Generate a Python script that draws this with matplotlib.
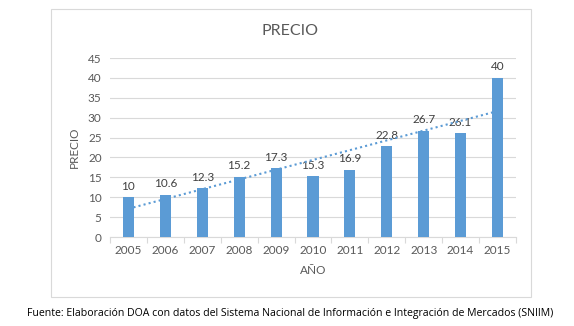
import matplotlib
matplotlib.use("Agg")
import matplotlib.pyplot as plt
from matplotlib.patches import Rectangle
import numpy as np

years = ["2005", "2006", "2007", "2008", "2009", "2010",
         "2011", "2012", "2013", "2014", "2015"]
precio = [10, 10.6, 12.3, 15.2, 17.3, 15.3, 16.9, 22.8, 26.7, 26.1, 40]
labels = ["10", "10.6", "12.3", "15.2", "17.3", "15.3",
          "16.9", "22.8", "26.7", "26.1", "40"]

plt.rcParams['font.family'] = ['Lato', 'DejaVu Sans']
txt = '#595959'
bar_color = '#5b9bd5'

fig = plt.figure(figsize=(5.74, 3.26), dpi=100)
ax = fig.add_axes([0.1916, 0.273, 0.7073, 0.549])

# chart frame
fig.patches.append(Rectangle((0.0889, 0.089), 0.836, 0.883, transform=fig.transFigure,
                             fill=False, edgecolor='#d9d9d9', linewidth=0.8))

x = np.arange(len(years))
ax.bar(x, precio, width=0.3, color=bar_color, zorder=3)

# linear trendline
m, b = np.polyfit(x, precio, 1)
ax.plot(x, m * x + b, linestyle=(0, (1, 1.5)), color=bar_color, linewidth=1.5, zorder=4)

for xi, v, lab in zip(x, precio, labels):
    ax.annotate(lab, (xi, v), xytext=(0, 4), textcoords='offset points',
                ha='center', va='bottom', fontsize=8.5, color='#404040')

ax.set_xlim(-0.5, len(years) - 0.5)
ax.set_ylim(0, 45)
ax.set_yticks(range(0, 46, 5))
ax.set_xticks(x)
ax.set_xticklabels(years)
ax.set_xticks(np.arange(-0.5, len(years), 1), minor=True)
ax.tick_params(axis='x', which='major', length=0, pad=6, labelsize=8.5, labelcolor=txt)
ax.tick_params(axis='x', which='minor', length=4, color='#d9d9d9', width=0.8)
ax.tick_params(axis='y', length=0, pad=6, labelsize=8.5, labelcolor=txt)
ax.grid(axis='y', color='#d9d9d9', linewidth=0.8, zorder=0)
for s in ['top', 'right', 'left']:
    ax.spines[s].set_visible(False)
ax.spines['bottom'].set_color('#d9d9d9')

fig.text(0.505, 0.905, "PRECIO", ha='center', va='center', fontsize=11.5, color=txt)
ax.set_ylabel("PRECIO", fontsize=8.5, color=txt, labelpad=6)
ax.set_xlabel("AÑO", fontsize=8.5, color=txt, labelpad=6)

fig.text(0.505, 0.037, "Fuente: Elaboración DOA con datos del Sistema Nacional de Información e Integración de Mercados (SNIIM)",
         ha='center', va='center', fontsize=7.6, color='black', family=['Open Sans', 'DejaVu Sans'])

fig.savefig("out.png", dpi=100, facecolor='white')
